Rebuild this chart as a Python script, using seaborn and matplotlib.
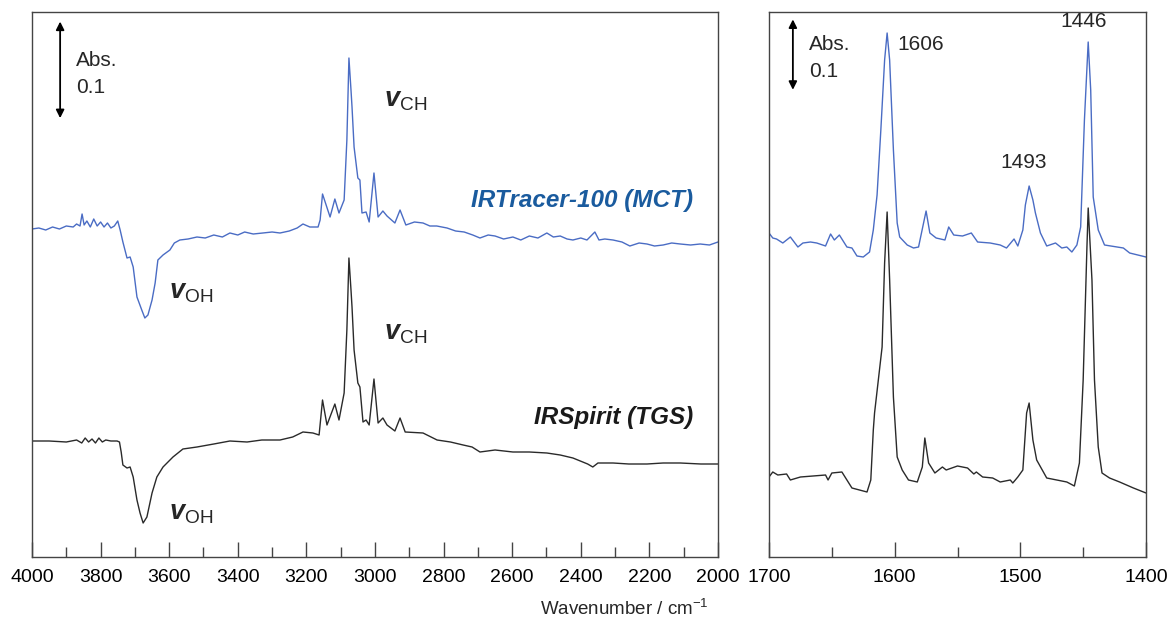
import numpy as np
import pandas as pd
import matplotlib
matplotlib.use("Agg")
import matplotlib.pyplot as plt
from matplotlib.ticker import MultipleLocator
import seaborn as sns

# ---------------- data (relative absorbance heights) ----------------
# Left panel: 4000-2000 cm-1 ; height units: 92 units = 0.1 Abs
mct_hi_wn = [4000, 3980, 3960, 3940, 3920, 3900, 3880, 3870, 3860, 3854, 3848, 3840, 3830, 3820,
             3810, 3800, 3790, 3780, 3770, 3760, 3750, 3743, 3735, 3723, 3714, 3705, 3694, 3680,
             3671, 3662, 3650, 3641, 3633, 3618, 3598, 3585, 3569, 3545, 3519, 3495, 3470, 3445,
             3423, 3400, 3380, 3355, 3327, 3300, 3277, 3250, 3227, 3210, 3190, 3166, 3160, 3153,
             3131, 3117, 3105, 3090, 3082, 3076, 3070, 3067, 3061, 3050, 3044, 3038, 3026, 3017,
             3003, 2991, 2977, 2965, 2942, 2927, 2910, 2885, 2860, 2840, 2820, 2790, 2765, 2740,
             2715, 2694, 2670, 2650, 2625, 2598, 2575, 2550, 2525, 2499, 2480, 2460, 2440, 2423,
             2400, 2382, 2359, 2347, 2330, 2306, 2280, 2257, 2230, 2207, 2185, 2160, 2135, 2110,
             2080, 2052, 2025, 2000]
mct_hi_h = [328, 329, 327, 330, 328, 331, 330, 333, 331, 343, 332, 336, 330, 338,
            331, 335, 330, 334, 329, 331, 336, 327, 315, 299, 300, 290, 260, 247,
            239, 242, 257, 274, 297, 302, 307, 314, 317, 318, 320, 319, 322, 320,
            324, 322, 325, 323, 324, 325, 324, 326, 329, 333, 330, 330, 337, 363,
            340, 358, 344, 357, 417, 499, 467, 450, 410, 379, 377, 344, 345, 335,
            384, 340, 346, 341, 334, 347, 332, 335, 334, 331, 331, 329, 326, 325,
            322, 319, 322, 321, 318, 320, 317, 321, 319, 324, 320, 321, 318, 317,
            319, 317, 325, 317, 318, 317, 315, 311, 314, 313, 311, 312, 314, 313,
            312, 313, 312, 315]

tgs_hi_wn = [4000, 3950, 3900, 3870, 3855, 3845, 3835, 3825, 3815, 3805, 3795, 3785, 3770, 3752,
             3745, 3740, 3735, 3723, 3714, 3705, 3694, 3685, 3676, 3665, 3650, 3636, 3618, 3589,
             3560, 3519, 3470, 3423, 3373, 3330, 3277, 3240, 3210, 3181, 3163, 3153, 3140, 3117,
             3105, 3090, 3082, 3076, 3070, 3067, 3061, 3050, 3044, 3035, 3026, 3017, 3003, 2991,
             2977, 2965, 2942, 2927, 2912, 2860, 2819, 2780, 2743, 2717, 2694, 2650, 2598, 2550,
             2499, 2460, 2423, 2380, 2365, 2350, 2306, 2260, 2207, 2160, 2110, 2050, 2000]
tgs_hi_h = [116, 116, 115, 117, 114, 119, 115, 118, 114, 119, 115, 117, 116, 116,
            115, 105, 92, 89, 90, 80, 57, 44, 34, 40, 64, 80, 90, 100,
            108, 110, 113, 116, 115, 117, 117, 120, 125, 124, 122, 157, 132, 153,
            137, 164, 227, 299, 267, 250, 207, 174, 170, 135, 137, 132, 178, 134,
            139, 132, 126, 139, 125, 124, 117, 115, 112, 110, 105, 107, 105, 105,
            104, 102, 99, 93, 90, 94, 94, 93, 93, 94, 94, 93, 93]

# Right panel: 1700-1400 cm-1 ; height units: 64 units = 0.1 Abs
mct_lo_wn = [1700, 1697, 1694, 1689, 1683, 1677, 1673, 1667, 1662, 1655, 1651, 1648, 1644, 1638,
             1634, 1630, 1625, 1620, 1617, 1614, 1611, 1608, 1606, 1604, 1601, 1598, 1596, 1590,
             1585, 1581, 1577, 1575, 1572, 1567, 1560, 1557, 1553, 1546, 1539, 1534, 1524, 1516,
             1511, 1505, 1502, 1498, 1496, 1493, 1490, 1488, 1484, 1479, 1472, 1467, 1463, 1459,
             1455, 1452, 1449, 1446, 1444, 1442, 1438, 1433, 1423, 1418, 1413, 1400]
mct_lo_h = [324, 319, 318, 314, 320, 310, 314, 315, 314, 311, 323, 317, 322, 310,
            309, 301, 300, 305, 327, 362, 427, 497, 524, 497, 407, 334, 320, 312,
            309, 310, 334, 346, 324, 319, 317, 330, 322, 321, 324, 315, 314, 312,
            309, 318, 311, 327, 352, 371, 357, 344, 324, 311, 314, 309, 310, 305,
            312, 330, 437, 515, 467, 360, 327, 312, 310, 309, 304, 300]

tgs_lo_wn = [1700, 1697, 1693, 1686, 1683, 1675, 1665, 1655, 1653, 1650, 1642, 1638, 1634, 1628,
             1622, 1619, 1617, 1616, 1613, 1610, 1608, 1606, 1604, 1601, 1598, 1594, 1589, 1582,
             1578, 1576, 1573, 1568, 1562, 1559, 1550, 1542, 1537, 1535, 1530, 1522, 1516, 1508,
             1506, 1502, 1498, 1495, 1493, 1490, 1487, 1479, 1471, 1463, 1457, 1453, 1450, 1447,
             1446, 1443, 1441, 1438, 1435, 1429, 1421, 1410, 1400]
tgs_lo_h = [80, 85, 82, 83, 77, 80, 81, 82, 77, 84, 85, 77, 69, 67,
            65, 77, 127, 144, 177, 210, 294, 345, 277, 160, 100, 87, 77, 75,
            90, 119, 94, 84, 90, 87, 91, 89, 83, 85, 80, 79, 75, 77,
            74, 80, 87, 144, 154, 117, 97, 79, 77, 75, 71, 94, 177, 310,
            349, 277, 177, 110, 84, 79, 75, 69, 64]

ABS_LEFT = 0.1 / 92.0
ABS_RIGHT = 0.1 / 64.0

left_df = pd.concat([
    pd.DataFrame({"wn": mct_hi_wn, "abs": np.array(mct_hi_h) * ABS_LEFT, "det": "MCT"}),
    pd.DataFrame({"wn": tgs_hi_wn, "abs": np.array(tgs_hi_h) * ABS_LEFT, "det": "TGS"}),
])
right_df = pd.concat([
    pd.DataFrame({"wn": mct_lo_wn, "abs": np.array(mct_lo_h) * ABS_RIGHT, "det": "MCT"}),
    pd.DataFrame({"wn": tgs_lo_wn, "abs": np.array(tgs_lo_h) * ABS_RIGHT, "det": "TGS"}),
])

palette = {"MCT": "#4a6cc4", "TGS": "#2a2a2a"}

# ---------------- style ----------------
sns.set_style("white")
plt.rcParams["font.family"] = ["Liberation Sans", "DejaVu Sans"]
plt.rcParams["mathtext.fontset"] = "custom"
plt.rcParams["mathtext.rm"] = "Liberation Sans"
plt.rcParams["mathtext.it"] = "Liberation Sans:italic"
plt.rcParams["mathtext.bf"] = "Liberation Sans:bold"
plt.rcParams["mathtext.bfit"] = "Liberation Sans:italic:bold"

fig = plt.figure(figsize=(11.71, 6.21), dpi=100)
W, H = 1171, 621
axL = fig.add_axes([32 / W, 1 - 557 / H, (718 - 32) / W, (557 - 12) / H])
axR = fig.add_axes([769 / W, 1 - 557 / H, (1146 - 769) / W, (557 - 12) / H])

sns.lineplot(data=left_df, x="wn", y="abs", hue="det", palette=palette, estimator=None,
             linewidth=1.0, legend=False, ax=axL)
sns.lineplot(data=right_df, x="wn", y="abs", hue="det", palette=palette, estimator=None,
             linewidth=1.0, legend=False, ax=axR)

axL.set_xlim(4000, 2000)
axL.set_ylim(0, 545 * ABS_LEFT)
axR.set_xlim(1700, 1400)
axR.set_ylim(0, 545 * ABS_RIGHT)

for ax, maj, mnr in [(axL, 200, 100), (axR, 100, 50)]:
    ax.set_xlabel("")
    ax.set_ylabel("")
    ax.set_yticks([])
    ax.xaxis.set_major_locator(MultipleLocator(maj))
    ax.xaxis.set_minor_locator(MultipleLocator(mnr))
    ax.tick_params(axis="x", which="major", direction="in", length=11, width=1,
                   color="#444444", labelsize=14, pad=9, labelcolor="black")
    ax.tick_params(axis="x", which="minor", direction="in", length=7, width=1,
                   color="#444444")
    ax.tick_params(axis="x", which="both", top=False, bottom=True)
    for s in ax.spines.values():
        s.set_visible(True)
        s.set_color("#444444")
        s.set_linewidth(1.0)

# scale bars
arrow_kw = dict(arrowstyle="<|-|>", color="black", lw=1.3, mutation_scale=12,
                shrinkA=0, shrinkB=0)
axL.annotate("", xy=(3918, 0.582), xytext=(3918, 0.477), arrowprops=arrow_kw)
axL.text(3872, 0.540, "Abs.", fontsize=15, va="center", ha="left")
axL.text(3872, 0.510, "0.1", fontsize=15, va="center", ha="left")
axR.annotate("", xy=(1681, 0.840), xytext=(1681, 0.730), arrowprops=arrow_kw)
axR.text(1668, 0.801, "Abs.", fontsize=15, va="center", ha="left")
axR.text(1668, 0.759, "0.1", fontsize=15, va="center", ha="left")

# band labels
vch = r"$\mathbfit{v}_{\mathregular{CH}}$"
voh = r"$\mathbfit{v}_{\mathregular{OH}}$"
axL.text(2973, 0.497, vch, fontsize=19.5, va="center", ha="left")
axL.text(2973, 0.243, vch, fontsize=19.5, va="center", ha="left")
axL.text(3600, 0.288, voh, fontsize=19.5, va="center", ha="left")
axL.text(3600, 0.048, voh, fontsize=19.5, va="center", ha="left")

axL.text(2073, 0.388, "IRTracer-100 (MCT)", fontsize=17.5, fontweight="bold", fontstyle="italic",
         color="#1a5b9e", va="center", ha="right")
axL.text(2073, 0.152, "IRSpirit (TGS)", fontsize=17.5, fontweight="bold", fontstyle="italic",
         color="#1a1a1a", va="center", ha="right")

axR.text(1598, 0.800, "1606", fontsize=15, va="center", ha="left")
axR.text(1516, 0.616, "1493", fontsize=15, va="center", ha="left")
axR.text(1468, 0.836, "1446", fontsize=15, va="center", ha="left")

fig.text(624 / W, 1 - 609 / H, r"Wavenumber / cm$^{-1}$", fontsize=13.5, ha="center", va="center")

fig.savefig("out.png", dpi=100, facecolor="white")
